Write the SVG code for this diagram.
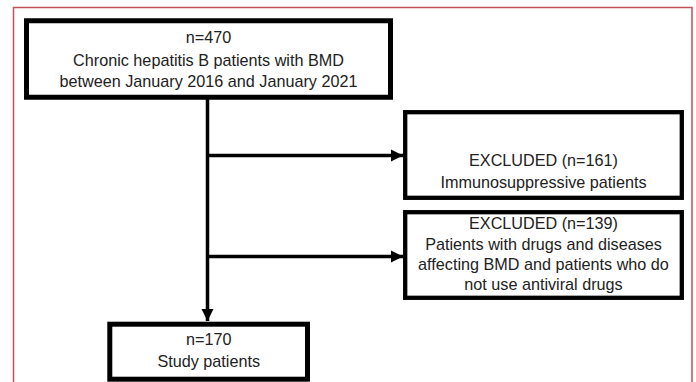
<svg xmlns="http://www.w3.org/2000/svg" width="696" height="382" viewBox="0 0 696 382">
<style>
.box{fill:#fff;stroke:#000;stroke-width:5}
.thin{stroke-width:4.3}
.t{font-family:"Liberation Sans",Arial,sans-serif;font-size:16.2px;fill:#222;text-anchor:middle}
.c{stroke:#000;stroke-width:3.5;fill:none}
</style>
<defs>
<marker id="ah" markerUnits="userSpaceOnUse" markerWidth="14" markerHeight="14" refX="12" refY="7" orient="auto">
<path d="M0,1 L12,7 L0,13 Z" fill="#000"/>
</marker>
</defs>
<rect x="0" y="0" width="696" height="382" fill="#fff"/>
<path d="M13.5,382 V7.5 H692 V382" fill="none" stroke="#c0505a" stroke-width="1.5"/>
<g id="connectors">
<line class="c" x1="207.5" y1="98" x2="207.5" y2="321" marker-end="url(#ah)"/>
<line class="c" x1="207.5" y1="155.5" x2="403" y2="155.5" marker-end="url(#ah)"/>
<line class="c" x1="207.5" y1="256.5" x2="403" y2="256.5" marker-end="url(#ah)"/>
</g>
<g id="n1">
<rect class="box" x="26.5" y="20.75" width="364" height="76.5"/>
<text class="t" x="208.5" y="43">n=470</text>
<text class="t" x="208.5" y="66">Chronic hepatitis B patients with BMD</text>
<text class="t" x="208.5" y="87">between January 2016 and January 2021</text>
</g>
<g id="n2">
<rect class="box thin" x="405.2" y="112.2" width="276.6" height="85.6"/>
<text class="t" x="543.5" y="166">EXCLUDED (n=161)</text>
<text class="t" x="543.5" y="188">Immunosuppressive  patients</text>
</g>
<g id="n3">
<rect class="box thin" x="405.2" y="212.2" width="276.6" height="85.6"/>
<text class="t" x="543.5" y="229">EXCLUDED (n=139)</text>
<text class="t" x="543.5" y="250">Patients with drugs and diseases</text>
<text class="t" x="543.5" y="270">affecting BMD and patients who do</text>
<text class="t" x="543.5" y="290">not use antiviral drugs</text>
</g>
<g id="n4">
<rect class="box" x="109.8" y="324.2" width="197.7" height="55"/>
<text class="t" x="208.7" y="345">n=170</text>
<text class="t" x="208.7" y="367">Study patients</text>
</g>
</svg>
